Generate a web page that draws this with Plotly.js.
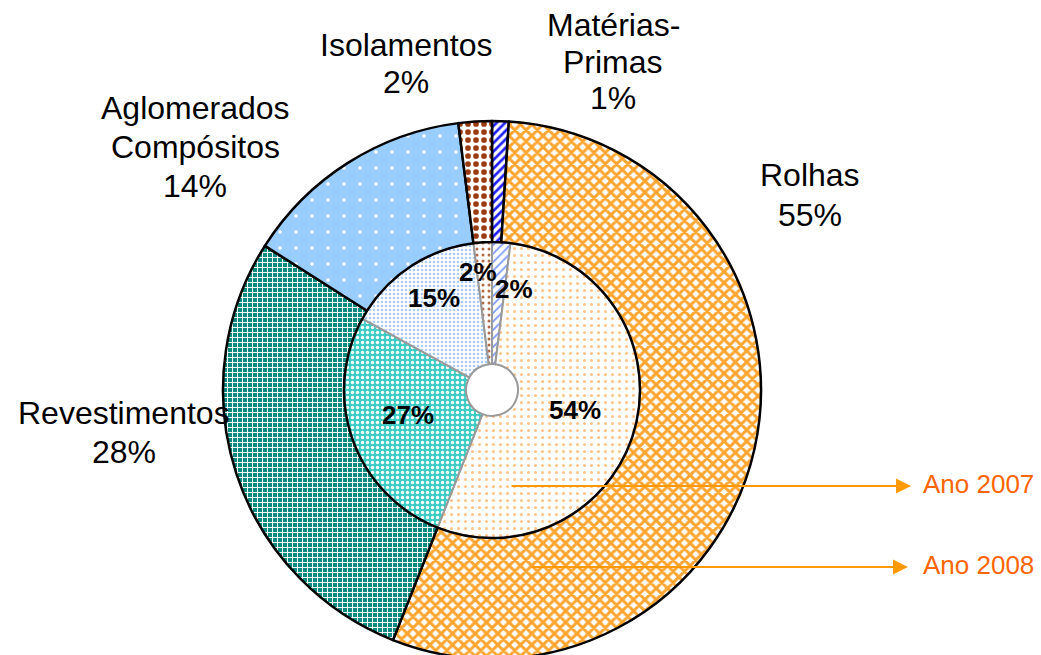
<!DOCTYPE html>
<html>
<head>
<meta charset="utf-8">
<script src="https://cdn.plot.ly/plotly-3.0.1.min.js"></script>
<style>
html, body { margin: 0; padding: 0; overflow: hidden; background: #fff; }
#chart { width: 1041px; height: 700px; }
</style>
</head>
<body>
<div id="chart"></div>
<script>
// ---- data ----
const categories = ['Matérias-Primas', 'Rolhas', 'Revestimentos', 'Aglomerados Compósitos', 'Isolamentos'];
const displayLines = [['Matérias-', 'Primas'], ['Rolhas'], ['Revestimentos'], ['Aglomerados', 'Compósitos'], ['Isolamentos']];
const values2008 = [1, 55, 28, 14, 2];
const values2007 = [2, 54, 27, 15, 2];
const seriesNames = ['Ano 2007', 'Ano 2008'];

// ---- styles ----
const W = 1041, H = 700;
const px = x => x / W;
const py = y => 1 - y / H;
const cx = 492, cy = 390, rOuter = 269, rInner = 148, rHole = 26;

const outerPattern = {
  shape: ['/', 'x', '+', '.', '.'],
  fgcolor: ['#1f1fff', '#ffa530', '#ffffff', '#ffffff', '#9a3a10'],
  bgcolor: ['#ffffff', '#ffffff', '#0e8a80', '#99ccff', '#ffffff'],
  size: [6, 8, 5, 16, 8],
  solidity: [0.45, 0.6, 0.35, 0.04, 0.4],
  fillmode: 'replace'
};
const innerPattern = {
  shape: ['/', '.', '.', '.', '.'],
  fgcolor: ['#7c98ff', '#ffc48a', '#ffffff', '#a9ccf5', '#b06a44'],
  bgcolor: ['#ffffff', '#ffffff', '#3cccc4', '#ffffff', '#ffffff'],
  size: [6, 7, 5, 4, 6],
  solidity: [0.3, 0.15, 0.35, 0.35, 0.2],
  fillmode: 'replace'
};

function dom(r) {
  const yb = H - cy;
  return { x: [(cx - r) / W, (cx + r) / W], y: [(yb - r) / H, (yb + r) / H] };
}

const traces = [
  {
    type: 'pie', name: seriesNames[0], labels: categories, values: values2007,
    sort: false, direction: 'clockwise', rotation: 0,
    hole: rHole / rInner, domain: dom(rInner),
    textinfo: 'none', hoverinfo: 'none', showlegend: false,
    marker: { colors: innerPattern.bgcolor, line: { color: '#9a9a9a', width: 2 }, pattern: innerPattern }
  },
  {
    type: 'pie', name: seriesNames[1], labels: categories, values: values2008,
    sort: false, direction: 'clockwise', rotation: 0,
    hole: rInner / rOuter, domain: dom(rOuter),
    textinfo: 'none', hoverinfo: 'none', showlegend: false,
    marker: { colors: outerPattern.bgcolor, line: { color: '#000000', width: 2.5 }, pattern: outerPattern }
  }
];

// label positions (pixel, centre of each line), per category
const outerLabelPos = [
  { x: 613, ys: [25, 62, 98.5] },
  { x: 810, ys: [175, 214.5] },
  { x: 124, ys: [413, 451.5] },
  { x: 195, ys: [108, 147, 186] },
  { x: 406, ys: [45.5, 82] }
];
const innerLabelPos = [
  { x: 514, y: 289 },
  { x: 575, y: 410 },
  { x: 408, y: 415 },
  { x: 434, y: 298 },
  { x: 478, y: 272 }
];

const annotations = [];
const labelFont = { family: 'Liberation Sans, Arial, sans-serif', size: 32, color: '#000000' };
categories.forEach((c, i) => {
  const lines = displayLines[i].concat([values2008[i] + '%']);
  lines.forEach((t, j) => {
    annotations.push({
      xref: 'paper', yref: 'paper', x: px(outerLabelPos[i].x), y: py(outerLabelPos[i].ys[j]),
      xanchor: 'center', yanchor: 'middle', text: t, showarrow: false, font: labelFont
    });
  });
  annotations.push({
    xref: 'paper', yref: 'paper', x: px(innerLabelPos[i].x), y: py(innerLabelPos[i].y),
    xanchor: 'center', yanchor: 'middle', text: '<b>' + values2007[i] + '%</b>', showarrow: false,
    font: { family: 'Liberation Sans, Arial, sans-serif', size: 26, color: '#000000' }
  });
});

// series pointer arrows
const arrowSpec = [
  { tailX: 510, tipX: 911, y: 486, textY: 484 },
  { tailX: 530, tipX: 908, y: 567, textY: 565 }
];
seriesNames.forEach((s, i) => {
  const a = arrowSpec[i];
  annotations.push({
    xref: 'paper', yref: 'paper', x: px(a.tipX), y: py(a.y),
    ax: a.tailX - a.tipX, ay: 0, axref: 'pixel', ayref: 'pixel',
    text: '', showarrow: true, arrowhead: 2, arrowsize: 1.5, arrowwidth: 2, arrowcolor: '#ff9900'
  });
  annotations.push({
    xref: 'paper', yref: 'paper', x: px(921), y: py(a.textY),
    xanchor: 'left', yanchor: 'middle', text: s, showarrow: false,
    font: { family: 'Liberation Sans, Arial, sans-serif', size: 26, color: '#ff6600' }
  });
});

const layout = {
  width: W, height: H,
  margin: { l: 0, r: 0, t: 0, b: 0 },
  paper_bgcolor: '#ffffff', plot_bgcolor: '#ffffff',
  showlegend: false,
  annotations: annotations
};

Plotly.newPlot('chart', traces, layout, { staticPlot: true, displayModeBar: false });
</script>
</body>
</html>
